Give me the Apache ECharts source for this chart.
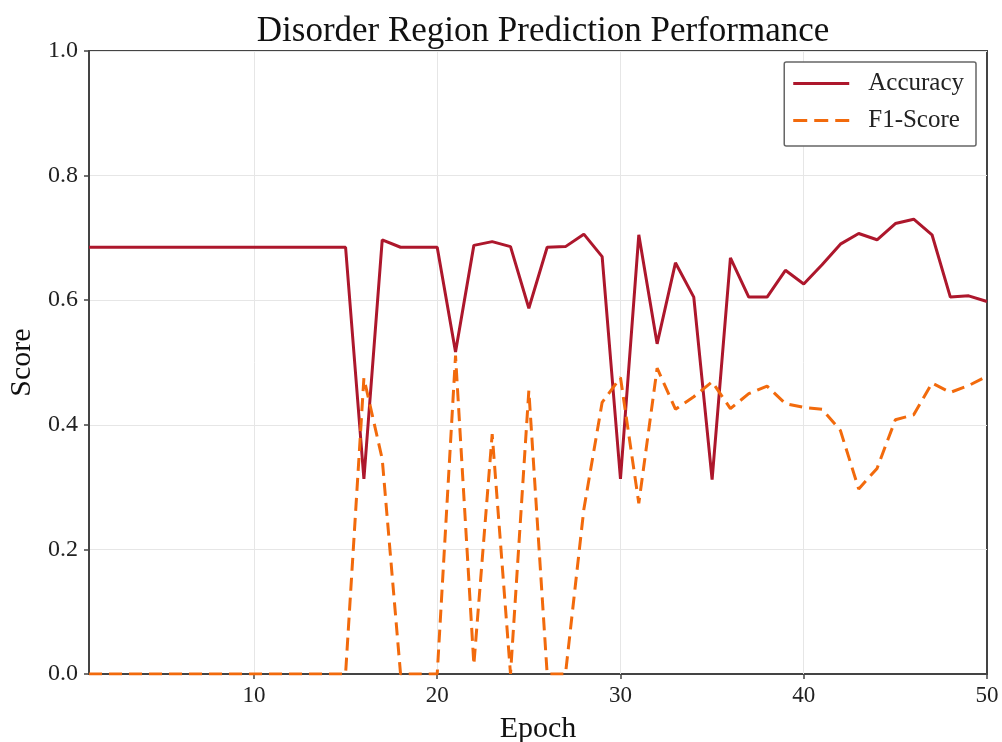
<!DOCTYPE html>
<html>
<head>
<meta charset="utf-8">
<script src="https://cdn.jsdelivr.net/npm/echarts@6/dist/echarts.min.js"></script>
<style>html,body{margin:0;padding:0;background:#fff;}#c{width:1002px;height:742px;}</style>
</head>
<body>
<div id="c"></div>
<script>
const epochs = [1,2,3,4,5,6,7,8,9,10,11,12,13,14,15,16,17,18,19,20,21,22,23,24,25,26,27,28,29,30,31,32,33,34,35,36,37,38,39,40,41,42,43,44,45,46,47,48,49,50];
const accuracy = [0.685,0.685,0.685,0.685,0.685,0.685,0.685,0.685,0.685,0.685,0.685,0.685,0.685,0.685,0.685,
  0.313,0.697,0.685,0.685,0.685,0.517,0.688,0.694,0.686,0.587,0.685,0.686,0.706,0.670,0.313,
  0.705,0.530,0.660,0.605,0.312,0.668,0.605,0.605,0.648,0.626,0.657,0.690,0.707,0.697,0.723,0.730,0.705,0.605,0.607,0.598];
const f1Score = [0,0,0,0,0,0,0,0,0,0,0,0,0,0,0,
  0.475,0.345,0,0,0,0.511,0.015,0.385,0,0.455,0,0,0.264,0.436,0.476,
  0.274,0.491,0.425,0.445,0.469,0.426,0.450,0.462,0.434,0.428,0.425,0.391,0.297,0.330,0.408,0.416,0.467,0.452,0.463,0.478];
const xTicks = [10,20,30,40,50];
const yTicks = [0,0.2,0.4,0.6,0.8,1.0];
const seriesNames = ['Accuracy','F1-Score'];
const titleText = 'Disorder Region Prediction Performance';

const serif = 'Liberation Serif';
const accColor = '#ad172c';
const f1Color = '#f26a0c';
const solidIcon = 'path://M0,0h56v3h-56z';
const dashIcon = 'path://M0,0h14v3h-14z M21,0h14v3h-14z M42,0h14v3h-14z';
const chart = echarts.init(document.getElementById('c'), null, {renderer:'canvas'});
chart.setOption({
  animation:false,
  backgroundColor:'#fff',
  title:{text:titleText,left:538,top:9,textAlign:'center',
    textStyle:{fontFamily:serif,fontSize:35,fontWeight:'normal',color:'#111'}},
  grid:{left:89,right:15,top:51,bottom:68,show:true,borderColor:'#444',borderWidth:2,
    backgroundColor:'transparent',outerBoundsMode:'none',containLabel:false},
  legend:{orient:'vertical',right:26,top:62,
    data:[{name:seriesNames[0],icon:solidIcon,itemStyle:{color:accColor}},
          {name:seriesNames[1],icon:dashIcon,itemStyle:{color:f1Color}}],
    itemWidth:56,itemHeight:3,itemGap:12,padding:[9,12,13,9],
    borderColor:'#666',borderWidth:1.5,borderRadius:2,backgroundColor:'#fff',
    textStyle:{fontFamily:serif,fontSize:25,color:'#222',padding:[0,0,0,14]}},
  xAxis:{type:'value',min:1,max:50,
    name:'Epoch',nameLocation:'middle',nameGap:40,
    nameTextStyle:{fontFamily:serif,fontSize:30,color:'#111'},
    axisLine:{show:true,lineStyle:{color:'#444',width:2}},
    axisTick:{show:true,length:5,customValues:xTicks,lineStyle:{color:'#444',width:1.5}},
    axisLabel:{customValues:xTicks,margin:10,fontFamily:serif,fontSize:23,color:'#222'},
    splitLine:{show:false}},
  yAxis:{type:'value',min:0,max:1,interval:0.2,
    name:'Score',nameLocation:'middle',nameGap:48,
    nameTextStyle:{fontFamily:serif,fontSize:30,color:'#111'},
    axisLine:{show:true,lineStyle:{color:'#444',width:2}},
    axisTick:{show:true,length:5,lineStyle:{color:'#444',width:1.5}},
    axisLabel:{margin:11,fontFamily:serif,fontSize:24,color:'#222',formatter:v=>v.toFixed(1)},
    splitLine:{show:true,lineStyle:{color:'#e6e6e6',width:1}}},
  series:[
    {name:seriesNames[0],type:'line',symbol:'none',z:3,
      data:epochs.map((e,i)=>[e,accuracy[i]]),
      lineStyle:{color:accColor,width:3},itemStyle:{color:accColor},
      markLine:{silent:true,symbol:'none',label:{show:false},animation:false,z:1,
        lineStyle:{color:'#e6e6e6',width:1,type:'solid'},
        data:xTicks.slice(0,4).map(v=>({xAxis:v}))}},
    {name:seriesNames[1],type:'line',symbol:'none',z:4,
      data:epochs.map((e,i)=>[e,f1Score[i]]),
      lineStyle:{color:f1Color,width:3,type:[13,7]},itemStyle:{color:f1Color}}
  ]
});
</script>
</body>
</html>
